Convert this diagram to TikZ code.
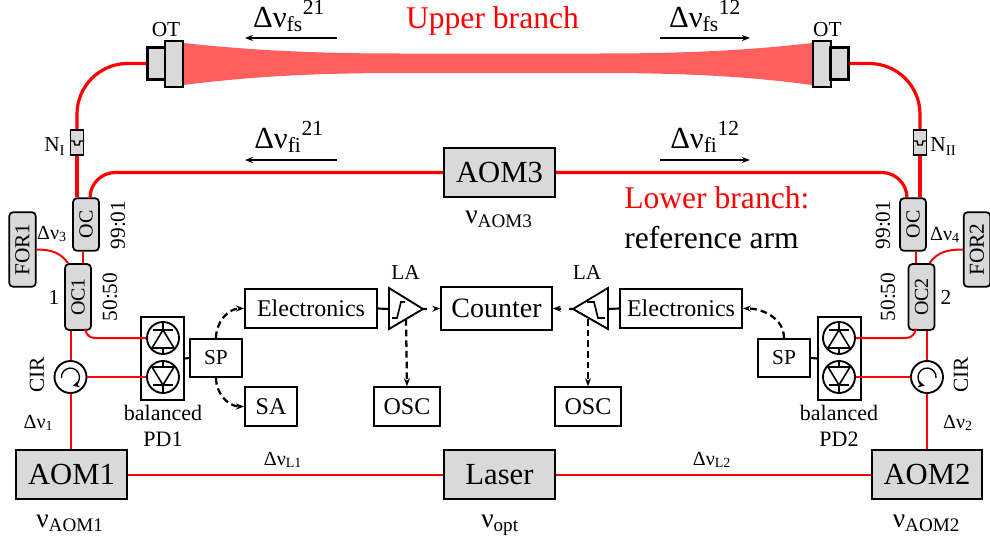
\documentclass[tikz,border=0pt]{standalone}
\usepackage{fontspec}
\usepackage{graphicx}
\setmainfont{Liberation Serif}
\usepackage{tikz}
\usetikzlibrary{positioning,arrows.meta}
\definecolor{fiberred}{HTML}{FF0000}
\definecolor{beamred}{HTML}{FF5F5F}
\definecolor{devgray}{HTML}{D9D9D9}
\tikzset{
    diode/.pic={
        \draw[line width=1.2pt] (-11,10) -- (11,10) -- (0,-8) -- cycle;
        \draw[line width=1.2pt] (-10,-8) -- (10,-8);
        \draw[line width=1.2pt] (0,-16) -- (0,-8) (0,10) -- (0,16);
    },
    cirarrow/.pic={
        \draw[line width=1pt, -{Stealth[length=5pt,width=5pt]}] (-9,1) arc[start angle=174, end angle=435, radius=9];
    },
}
\begin{document}
\begin{tikzpicture}[x=0.75pt, y=-0.75pt,
    gblock/.style={draw, fill=devgray, line width=1.4pt, minimum width=83pt, minimum height=36.75pt, inner sep=0pt, font=\fontsize{23}{25}\selectfont},
    vblock/.style={draw, fill=devgray, line width=1.3pt, rounded corners=3pt, inner sep=0pt, font=\fontsize{15}{17}\selectfont},
    wblock/.style={draw, line width=1.4pt, inner sep=0pt, font=\fontsize{18}{20}\selectfont},
    otbox/.style={draw, fill=devgray, line width=1.7pt, inner sep=0pt},
    nbox/.style={draw, fill=devgray, line width=1.4pt, inner sep=0pt, minimum width=9.75pt, minimum height=18.75pt},
    ring/.style={draw, circle, line width=1.4pt, minimum size=24pt, inner sep=0pt},
    fiber/.style={draw=fiberred, line width=2.4pt},
    thinfiber/.style={draw=fiberred, line width=1.5pt},
    wire/.style={line width=1.6pt},
    arrow/.style={-{Stealth[length=6pt]}, line width=1.5pt},
    dasharrow/.style={-{Stealth[length=6pt]}, line width=1.7pt, dash pattern=on 5pt off 3pt},
    bigtext/.style={inner sep=0pt, font=\fontsize{23.7}{26}\selectfont},
    txt/.style={inner sep=0pt, font=\fontsize{15}{17}\selectfont},
    lab/.style={inner sep=0pt, font=\fontsize{16}{18}\selectfont},
    freq/.style={inner sep=0pt, anchor=base, font=\fontsize{23}{25}\selectfont},
    nulab/.style={inner sep=0pt, anchor=base, font=\fontsize{20.5}{23}\selectfont},
]
\useasboundingbox (0,0) rectangle (990,546);

\fill[beamred] (183,43) .. controls (240,49) and (300,53.5) .. (400,53.5) -- (600,53.5) .. controls (700,53.5) and (760,49) .. (812,43)
    -- (812,85) .. controls (760,78) and (700,73) .. (600,73) -- (400,73) .. controls (300,73) and (240,78) .. (183,85) -- cycle;

\node[gblock] (aom3) at (499.5,172.5) {AOM3};
\node[gblock] (aom1) at (71.5,474.5) {AOM1};
\node[gblock] (laser) at (499.5,474.5) {Laser};
\node[gblock] (aom2) at (927,474.5) {AOM2};

\node[otbox, minimum width=13.5pt, minimum height=24pt] (ot1a) at (156.5,63.5) {};
\node[otbox, minimum width=13.5pt, minimum height=34.5pt] (ot1b) at (174,64) {};
\node[otbox, minimum width=13.5pt, minimum height=34.5pt] (ot2b) at (822,64) {};
\node[otbox, minimum width=13.5pt, minimum height=24pt] (ot2a) at (839.5,63.5) {};
\node[lab, above=2.5pt of ot1b, xshift=-6pt] (ot1lab) {OT};
\node[lab, above=2.5pt of ot2b, xshift=4pt] (ot2lab) {OT};

\node[nbox] (n1) at (77,142.5) {};
\node[nbox] (n2) at (920,142.5) {};
\draw[line width=1.1pt] (70,141) -- (74,141) -- (75,145) -- (79,145) -- (80,141) -- (84,141);
\draw[line width=1.1pt] (913,141) -- (917,141) -- (918,145) -- (922,145) -- (923,141) -- (927,141);
\node[lab, left=3pt of n1, yshift=-3pt] (n1lab) {N\textsubscript{I}};
\node[lab, right=2pt of n2, yshift=-3pt] (n2lab) {N\textsubscript{II}};

\node[vblock, minimum width=19.5pt, minimum height=39.5pt] (ocl) at (86,224.5) {\rotatebox{90}{OC}};
\node[vblock, minimum width=19.5pt, minimum height=39.5pt] (ocr) at (913,224.5) {\rotatebox{90}{OC}};
\node[vblock, minimum width=19.5pt, minimum height=49.5pt] (oc1) at (78,297) {\rotatebox{90}{OC1}};
\node[vblock, minimum width=19.5pt, minimum height=49.5pt] (oc2) at (921.5,297) {\rotatebox{90}{OC2}};
\node[vblock, minimum width=20pt, minimum height=56pt, font=\fontsize{16}{18}\selectfont] (for1) at (22.5,249.5) {\rotatebox{90}{FOR1}};
\node[vblock, minimum width=20pt, minimum height=56pt, font=\fontsize{16}{18}\selectfont] (for2) at (977,249.5) {\rotatebox{90}{FOR2}};

\node[ring] (cir1) at (70.5,377) {};
\node[ring] (cir2) at (927,377) {};
\pic at (70.5,377) {cirarrow};
\pic[xscale=-1] at (927,377) {cirarrow};

\node[wblock, minimum width=32pt, minimum height=62pt] (pd1) at (162.5,358.5) {};
\node[wblock, minimum width=32pt, minimum height=62pt] (pd2) at (839.5,358.5) {};
\node[ring] (pd1a) at (163,338) {};
\node[ring] (pd1b) at (163,377) {};
\node[ring] (pd2a) at (839,338) {};
\node[ring] (pd2b) at (839,377) {};
\pic at (163,338) {diode};
\pic[yscale=-1] at (163,377) {diode};
\pic at (839,338) {diode};
\pic[yscale=-1] at (839,377) {diode};

\node[wblock, minimum width=39pt, minimum height=28.5pt, font=\fontsize{16}{18}\selectfont] (sp1) at (216,358) {SP};
\node[wblock, minimum width=39pt, minimum height=28.5pt, font=\fontsize{16}{18}\selectfont] (sp2) at (784,358) {SP};
\node[wblock, minimum width=99pt, minimum height=29pt] (elec1) at (311,308.5) {Electronics};
\node[wblock, minimum width=91.5pt, minimum height=29pt] (elec2) at (681,308.5) {Electronics};
\node[wblock, minimum width=39pt, minimum height=29pt] (sa) at (271,406.5) {SA};
\node[wblock, minimum width=83pt, minimum height=32pt, font=\fontsize{21}{23}\selectfont] (counter) at (496.5,308.5) {Counter};
\node[wblock, minimum width=49.5pt, minimum height=29pt] (osc1) at (407,406.5) {OSC};
\node[wblock, minimum width=49.5pt, minimum height=29pt] (osc2) at (588,406.5) {OSC};

\coordinate (la1in) at (389,309);
\coordinate (la1out) at (423,309);
\coordinate (la1bot) at (406,319);
\coordinate (la2in) at (608,309);
\coordinate (la2out) at (573,309);
\coordinate (la2bot) at (588,319);
\draw[line width=1.4pt] (389,288) -- (423,309) -- (389,329) -- cycle;
\draw[line width=1.4pt] (608,288) -- (573,309) -- (608,329) -- cycle;
\draw[line width=1.2pt] (392,318) -- (397,318) -- (401,302) -- (405,302);
\draw[line width=1.2pt] (587,302) -- (594,302) -- (598,318) -- (605,318);
\node[lab, anchor=base] (la1lab) at (405.5,279) {LA};
\node[lab, anchor=base] (la2lab) at (587,279) {LA};

\draw[fiber, rounded corners=38pt] (ot1a.west) -| (n1.north);
\draw[fiber] (n1.south) -- (n1.south |- ocl.north);
\draw[fiber, rounded corners=38pt] (ot2a.east) -| (n2.north);
\draw[fiber] (n2.south) -- (n2.south |- ocr.north);
\draw[fiber, rounded corners=19pt] (aom3.west) -| ([xshift=3pt]ocl.north);
\draw[fiber, rounded corners=19pt] (aom3.east) -| ([xshift=-4.5pt]ocr.north);
\draw[thinfiber] ([xshift=-2.25pt]ocl.south) -- ([xshift=-2.25pt]ocl.south |- oc1.north);
\draw[thinfiber] ([xshift=2.25pt]ocr.south) -- ([xshift=2.25pt]ocr.south |- oc2.north);
\draw[thinfiber] (for1.east) to[out=0,in=125] ([xshift=-7.5pt]oc1.north);
\draw[thinfiber] (for2.west) to[out=180,in=55] ([xshift=6pt]oc2.north);
\draw[thinfiber] (cir1.north) -- (cir1.north |- oc1.south);
\draw[thinfiber] (cir2.north) -- (cir2.north |- oc2.south);
\draw[thinfiber] (cir1.south) -- (cir1.south |- aom1.north);
\draw[thinfiber] (cir2.south) -- (cir2.south |- aom2.north);
\draw[thinfiber, rounded corners=7pt] ([xshift=5.5pt]oc1.south) |- (pd1a.west);
\draw[thinfiber, rounded corners=7pt] ([xshift=-4.5pt]oc2.south) |- (pd2a.east);
\draw[thinfiber] (cir1.east) -- (pd1b.west |- cir1.east);
\draw[thinfiber] (cir2.west) -- (pd2b.east |- cir2.west);
\draw[thinfiber] (aom1.east) -- (laser.west);
\draw[thinfiber] (laser.east) -- (aom2.west);

\draw[wire] (pd1.east) -- (sp1.west);
\draw[wire] (pd2.west) -- (sp2.east);
\draw[wire] (elec1.east) -- (la1in);
\draw[wire] (elec2.west) -- (la2in);
\draw[dasharrow] (sp1.north) to[out=90,in=180] (elec1.west);
\draw[dasharrow] (sp1.south) to[out=-90,in=180] (sa.west);
\draw[dasharrow] (sp2.north) to[out=90,in=0] (elec2.east);
\draw[dasharrow] (la1bot) -- (osc1.north);
\draw[dasharrow] (la2bot) -- (osc2.north);
\draw[dasharrow, dash pattern=on 3pt off 6pt] (la1out) -- (counter.west);
\draw[dasharrow, dash pattern=on 3pt off 6pt] (la2out) -- (counter.east);

\coordinate (fs21a) at (337,38);
\coordinate (fs21b) at (245,38);
\coordinate (fs12a) at (660,38);
\coordinate (fs12b) at (750,38);
\coordinate (fi21a) at (337,160);
\coordinate (fi21b) at (245,160);
\coordinate (fi12a) at (660,160);
\coordinate (fi12b) at (750,160);
\draw[arrow] (fs21a) -- (fs21b);
\draw[arrow] (fs12a) -- (fs12b);
\draw[arrow] (fi21a) -- (fi21b);
\draw[arrow] (fi12a) -- (fi12b);
\node[freq] (fs21lab) at (289,27) {Δν\textsubscript{fs}\textsuperscript{21}};
\node[freq] (fs12lab) at (705,27) {Δν\textsubscript{fs}\textsuperscript{12}};
\node[freq] (fi21lab) at (289,148) {Δν\textsubscript{fi}\textsuperscript{21}};
\node[freq] (fi12lab) at (705,148) {Δν\textsubscript{fi}\textsuperscript{12}};

\node[bigtext, fiberred, anchor=base] (upper) at (492.5,28) {Upper branch};
\node[bigtext, fiberred, anchor=base west] (lower) at (624,208) {Lower branch:};
\node[bigtext, anchor=base west] (refarm) at (624,248) {reference arm};

\node[nulab] (nu3) at (499,223) {ν\textsubscript{AOM3}};
\node[nulab] (nu1) at (70,527) {ν\textsubscript{AOM1}};
\node[nulab] (nuopt) at (500,527) {ν\textsubscript{opt}};
\node[nulab] (nu2) at (926.5,527) {ν\textsubscript{AOM2}};

\node[txt, anchor=base] (dl1) at (283,465) {Δν\textsubscript{L1}};
\node[txt, anchor=base] (dl2) at (712,465) {Δν\textsubscript{L2}};
\node[txt, anchor=base] (d1) at (38.5,428) {Δν\textsubscript{1}};
\node[txt, anchor=base] (d2) at (958,428) {Δν\textsubscript{2}};
\node[txt, anchor=base] (d3) at (52,239) {Δν\textsubscript{3}};
\node[txt, anchor=base] (d4) at (945,240) {Δν\textsubscript{4}};

\node[lab, rotate=90] (r1) at (118,225) {99:01};
\node[lab, rotate=90] (r2) at (883,225) {99:01};
\node[lab, rotate=90] (r3) at (110,297) {50:50};
\node[lab, rotate=90] (r4) at (888,297) {50:50};
\node[lab] (one) at (54,297) {1};
\node[lab] (two) at (946,297) {2};
\node[lab, rotate=90] (cir1lab) at (37,375) {CIR};
\node[lab, rotate=90] (cir2lab) at (961,375) {CIR};
\node[txt, font=\fontsize{16.5}{20}\selectfont, align=center] (pd1lab) at (163,426) {balanced\\PD1};
\node[txt, font=\fontsize{16.5}{20}\selectfont, align=center] (pd2lab) at (839,426) {balanced\\PD2};
\end{tikzpicture}
\end{document}
